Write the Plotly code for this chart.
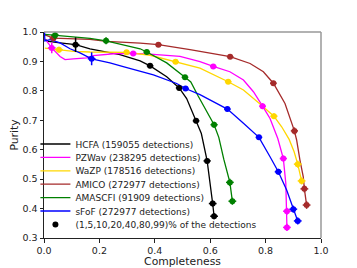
import plotly.graph_objects as go

# ---- data ----
names = ["HCFA", "PZWav", "WaZP", "AMICO", "AMASCFI", "sFoF"]
n_det = [159055, 238295, 178516, 272977, 91909, 272977]
colors = ["#000000", "#ff00ff", "#ffd700", "#a52a2a", "#008000", "#0000ff"]

hcfa_x = [0.003, 0.016, 0.058, 0.114, 0.166, 0.274, 0.347, 0.383, 0.443, 0.488, 0.515, 0.549, 0.568, 0.589, 0.600, 0.609, 0.614]
hcfa_y = [0.975, 0.968, 0.963, 0.957, 0.943, 0.923, 0.902, 0.885, 0.848, 0.810, 0.774, 0.698, 0.655, 0.562, 0.490, 0.417, 0.374]
pzw_x = [0.005, 0.028, 0.058, 0.076, 0.106, 0.154, 0.178, 0.262, 0.322, 0.383, 0.491, 0.539, 0.563, 0.611, 0.671, 0.720, 0.756, 0.789, 0.816, 0.844, 0.864, 0.873, 0.877, 0.877]
pzw_y = [0.975, 0.946, 0.917, 0.906, 0.909, 0.912, 0.920, 0.927, 0.927, 0.925, 0.917, 0.906, 0.899, 0.883, 0.865, 0.837, 0.797, 0.748, 0.706, 0.638, 0.570, 0.485, 0.391, 0.336]
wazp_x = [0.003, 0.054, 0.106, 0.166, 0.298, 0.383, 0.475, 0.563, 0.665, 0.720, 0.780, 0.830, 0.858, 0.885, 0.903, 0.916, 0.930]
wazp_y = [0.945, 0.940, 0.934, 0.932, 0.931, 0.921, 0.899, 0.877, 0.831, 0.803, 0.755, 0.714, 0.678, 0.635, 0.593, 0.551, 0.494]
amico_x = [0.003, 0.034, 0.166, 0.226, 0.347, 0.413, 0.527, 0.599, 0.672, 0.744, 0.792, 0.828, 0.870, 0.904, 0.912, 0.924, 0.936, 0.940, 0.948]
amico_y = [0.990, 0.979, 0.975, 0.968, 0.962, 0.957, 0.940, 0.929, 0.916, 0.893, 0.865, 0.826, 0.757, 0.664, 0.633, 0.565, 0.508, 0.467, 0.412]
amas_x = [0.003, 0.040, 0.166, 0.224, 0.347, 0.371, 0.443, 0.509, 0.530, 0.555, 0.587, 0.614, 0.631, 0.649, 0.671, 0.680]
amas_y = [0.992, 0.989, 0.978, 0.970, 0.943, 0.932, 0.895, 0.846, 0.830, 0.785, 0.730, 0.685, 0.642, 0.568, 0.489, 0.425]
sfof_x = [0.002, 0.003, 0.022, 0.058, 0.094, 0.130, 0.172, 0.238, 0.286, 0.347, 0.395, 0.479, 0.511, 0.563, 0.662, 0.720, 0.776, 0.816, 0.846, 0.876, 0.900, 0.916]
sfof_y = [1.000, 0.970, 0.974, 0.963, 0.943, 0.929, 0.909, 0.895, 0.882, 0.866, 0.854, 0.825, 0.808, 0.787, 0.738, 0.690, 0.642, 0.576, 0.525, 0.463, 0.398, 0.358]

# (1,5,10,20,40,80,99)% markers
hcfa_mx = [0.114, 0.383, 0.488, 0.549, 0.589, 0.609, 0.614]
hcfa_my = [0.957, 0.885, 0.810, 0.698, 0.562, 0.417, 0.374]
pzw_mx = [0.028, 0.322, 0.611, 0.789, 0.864, 0.877, 0.877]
pzw_my = [0.946, 0.927, 0.883, 0.748, 0.570, 0.391, 0.336]
wazp_mx = [0.054, 0.298, 0.475, 0.665, 0.830, 0.916, 0.930]
wazp_my = [0.940, 0.931, 0.899, 0.831, 0.714, 0.551, 0.494]
amico_mx = [0.034, 0.413, 0.672, 0.828, 0.904, 0.940, 0.948]
amico_my = [0.979, 0.957, 0.916, 0.826, 0.664, 0.467, 0.412]
amas_mx = [0.040, 0.224, 0.371, 0.509, 0.614, 0.671, 0.680]
amas_my = [0.989, 0.970, 0.932, 0.846, 0.685, 0.489, 0.425]
sfof_mx = [0.172, 0.511, 0.662, 0.776, 0.846, 0.900, 0.916]
sfof_my = [0.909, 0.808, 0.738, 0.642, 0.525, 0.398, 0.358]

# error bars on the markers
hcfa_ey = [0.025, 0.008, 0.008, 0.008, 0.008, 0.010, 0.010]
pzw_ey = [0.018, 0.008, 0.008, 0.010, 0.010, 0.012, 0.012]
wazp_ey = [0.010, 0.008, 0.008, 0.008, 0.010, 0.012, 0.012]
amico_ey = [0.008, 0.008, 0.008, 0.008, 0.012, 0.012, 0.013]
amas_ey = [0.014, 0.012, 0.008, 0.008, 0.010, 0.012, 0.012]
sfof_ey = [0.022, 0.008, 0.008, 0.008, 0.010, 0.012, 0.012]
err_x = [0.014, 0.012, 0.012, 0.012, 0.013, 0.014, 0.014]

marker_label = "(1,5,10,20,40,80,99)% of the detections"

lines = [(hcfa_x, hcfa_y), (pzw_x, pzw_y), (wazp_x, wazp_y),
         (amico_x, amico_y), (amas_x, amas_y), (sfof_x, sfof_y)]
marks = [(hcfa_mx, hcfa_my, hcfa_ey), (pzw_mx, pzw_my, pzw_ey), (wazp_mx, wazp_my, wazp_ey),
         (amico_mx, amico_my, amico_ey), (amas_mx, amas_my, amas_ey), (sfof_mx, sfof_my, sfof_ey)]

FONT = "DejaVu Sans"
# the page adds an 8px body margin, so the figure is sized to fit the 357x268 window
W, H = 349, 260
L, R, T, B = 36, 36, 24, 30

fig = go.Figure()
legend_ids = ["legend"] + [f"legend{i}" for i in range(2, 8)]

for i, (name, nd, col) in enumerate(zip(names, n_det, colors)):
    lx, ly = lines[i]
    fig.add_trace(go.Scatter(x=lx, y=ly, mode="lines",
                             line=dict(color=col, width=1.3),
                             name=f"{name} ({nd} detections)",
                             legend=legend_ids[i], showlegend=True))

for i, col in enumerate(colors):
    mx, my, ey = marks[i]
    fig.add_trace(go.Scatter(x=mx, y=my, mode="markers",
                             marker=dict(color=col, size=6, line=dict(width=0)),
                             error_x=dict(type="data", array=err_x, color=col, thickness=1.5, width=0),
                             error_y=dict(type="data", array=ey, color=col, thickness=1.5, width=0),
                             showlegend=False, hoverinfo="skip"))

fig.add_trace(go.Scatter(x=[None], y=[None], mode="markers",
                         marker=dict(color="black", size=6),
                         name=marker_label, legend=legend_ids[6], showlegend=True))

# legend row centres (page pixels)
row_px = [144, 157.4, 170.8, 184.2, 197.6, 211.0, 224.4]
plot_bottom_page = 238
plot_h = H - T - B
layout_legends = {}
for lid, py in zip(legend_ids, row_px):
    layout_legends[lid] = dict(x=-0.031, xanchor="left", y=(plot_bottom_page - py) / plot_h, yanchor="middle",
                               bgcolor="rgba(0,0,0,0)", borderwidth=0,
                               font=dict(family=FONT, size=9, color="#222"),
                               tracegroupgap=0, itemwidth=30)

fig.update_layout(width=W, height=H, margin=dict(l=L, r=R, t=T, b=B),
                  paper_bgcolor="white", plot_bgcolor="white",
                  font=dict(family=FONT, size=9.5, color="#222"),
                  **layout_legends)

fig.update_xaxes(range=[0, 1], tickvals=[0, 0.2, 0.4, 0.6, 0.8, 1.0],
                 ticktext=["0.0", "0.2", "0.4", "0.6", "0.8", "1.0"],
                 showgrid=False, zeroline=False, showline=True, linecolor="#222", linewidth=1,
                 ticks="outside", ticklen=3.5, tickwidth=0.8, tickcolor="#222",
                 tickfont=dict(family=FONT, size=9.5, color="#222"),
                 title=dict(text="Completeness", font=dict(family=FONT, size=10.8, color="#222"), standoff=7),
                 automargin=False)
fig.update_yaxes(range=[0.3, 1.0], tickvals=[0.3, 0.4, 0.5, 0.6, 0.7, 0.8, 0.9, 1.0],
                 ticktext=["0.3", "0.4", "0.5", "0.6", "0.7", "0.8", "0.9", "1.0"],
                 showgrid=False, zeroline=False, showline=True, linecolor="#222", linewidth=1,
                 ticks="outside", ticklen=3.5, tickwidth=0.8, tickcolor="#222",
                 tickfont=dict(family=FONT, size=9.5, color="#222"),
                 title=dict(text="Purity", font=dict(family=FONT, size=10.8, color="#222"), standoff=10),
                 automargin=False)

# top and right frame lines
fig.add_shape(type="line", xref="paper", yref="paper", x0=0, x1=1, y0=1, y1=1,
              line=dict(color="#999", width=1.5))
fig.add_shape(type="line", xref="paper", yref="paper", x0=1, x1=1, y0=0, y1=1,
              line=dict(color="#999", width=1.5))

fig.write_html("out.html")
